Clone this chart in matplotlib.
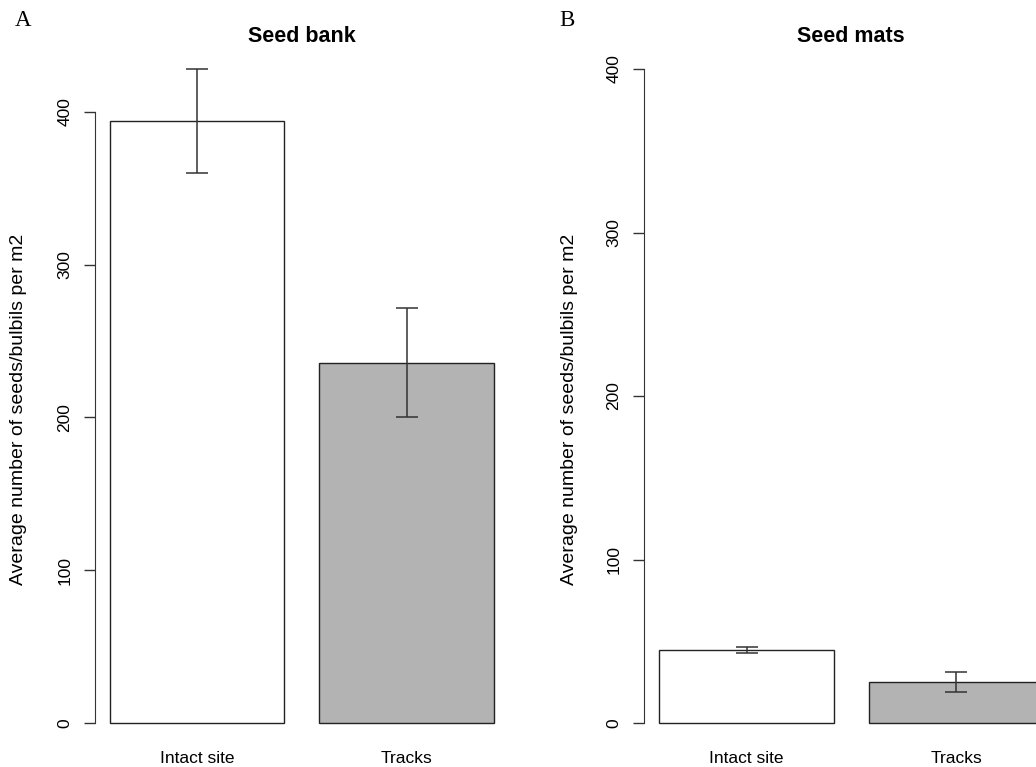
import matplotlib
matplotlib.use('Agg')
import matplotlib.pyplot as plt

sites = ['Intact site', 'Tracks']
bank_mean = [394, 236]
bank_se = [34, 36]
mats_mean = [44.5, 25]
mats_se = [1.8, 6.2]
bar_colors = ['white', '#b3b3b3']
yticks = [0, 100, 200, 300, 400]

W, H = 1036, 767
plt.rcParams['font.family'] = ['Liberation Sans', 'DejaVu Sans']

fig = plt.figure(figsize=(W / 100, H / 100), dpi=100)


def px_axes(left, zero_y, xscale, yscale, ymax):
	# place axes so that data x=0.112 sits at `left` px and y=0 at `zero_y` px
	width = 2.376 * xscale
	height = ymax * yscale
	return fig.add_axes([left / W, (H - zero_y) / H, width / W, height / H])


def panel(ax, means, ses, ymax):
	pos = [0.7, 1.9]
	bars = ax.bar(pos, means, width=1.0, color=bar_colors, edgecolor='#222222', linewidth=1.0)
	for b in bars:
		b.set_clip_on(False)
	ax.errorbar(pos, means, yerr=ses, fmt='none', ecolor='#333333', elinewidth=1.1,
		capsize=8, capthick=1.1)
	ax.set_xlim(0.112, 2.488)
	ax.set_ylim(0, ymax)
	for s in ['top', 'right', 'bottom']:
		ax.spines[s].set_visible(False)
	ax.spines['left'].set_bounds(0, 400)
	ax.spines['left'].set_color('#333333')
	ax.set_yticks(yticks)
	ax.set_yticklabels([str(t) for t in yticks], rotation=90, va='center', fontsize=12.5)
	ax.tick_params(axis='y', length=8, width=1, color='#333333', pad=8)
	ax.set_xticks(pos)
	ax.set_xticklabels(sites, fontsize=12.5)
	ax.tick_params(axis='x', length=0, pad=20)
	ax.patch.set_alpha(0)


axA = px_axes(94.6, 723, 174.5, 1.5275, 440)
panel(axA, bank_mean, bank_se, 440)
axB = px_axes(643.6, 723, 175.0, 1.635, 410)
panel(axB, mats_mean, mats_se, 410)

ylab = 'Average number of seeds/bulbils per m2'
fig.text(19 / W, 1 - 409 / H, ylab, rotation=90, ha='center', va='center', fontsize=14)
fig.text(569 / W, 1 - 409 / H, ylab, rotation=90, ha='center', va='center', fontsize=14)

fig.text(302 / W, 1 - 36 / H, 'Seed bank', ha='center', va='center', fontsize=15.5, fontweight='bold')
fig.text(851 / W, 1 - 37 / H, 'Seed mats', ha='center', va='center', fontsize=15.5, fontweight='bold')

fig.text(23 / W, 1 - 21 / H, 'A', ha='center', va='center', fontsize=16.5, family='Liberation Serif')
fig.text(567 / W, 1 - 21 / H, 'B', ha='center', va='center', fontsize=16.5, family='Liberation Serif')

fig.savefig('out.png', dpi=100)
